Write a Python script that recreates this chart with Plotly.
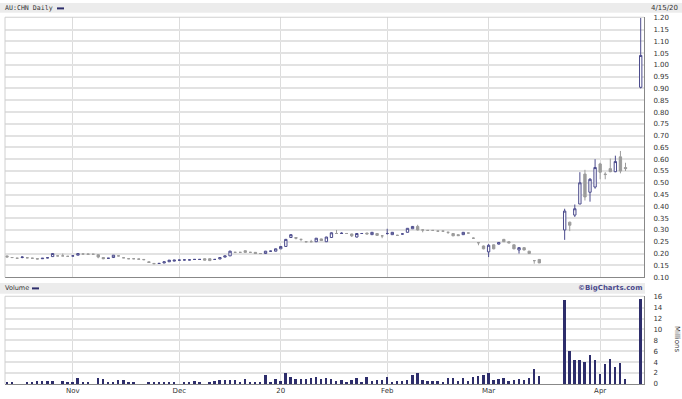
import pandas as pd
import plotly.graph_objects as go

# ---------------- data ----------------
holidays = ["2019-12-25", "2019-12-26", "2020-01-01", "2020-01-27", "2020-04-10", "2020-04-13"]
dates = pd.bdate_range("2019-10-15", "2020-04-15", freq="C", holidays=holidays).strftime("%Y-%m-%d").tolist()

N = None
opens = [.190, .183, .180, .183, .182, .180, .178, .178, .182, .187,
         .190, .190, .188, .190, .193, .198, .198, .197, .195, .183,
         .180, .183, .190, .182, .178, .178, .177, .175, .165, .158,
         .158, .160, .165, .168, .172, .173, .173, .175, .175, .178,
         .178, .175, .177, .185, .190, .205, .205, .212, .205, .205,
         .200, .200, .210, .210, .220, .230, .268, .268, .260, .250,
         .250, .250, .262, .250, .268, .285, .285, .285, .283, .270,
         .285, .287, .280, .285, .275, .285, .280, .277, .283, .290,
         .305, .315, .300, .298, .298, .295, .295, .290, .285, .280,
         .280, .287, .265, .246, .232, .207, .237, .240, .260, .250,
         .237, .215, .225, .210, .170, .175, N, N, N, N,
         .300, .333, .363, .410, .537, .460, .482, .580, .537, .560,
         .547, .610, .565, N, N, .905]
highs = [.190, .185, .182, .188, .183, .182, .180, .180, .183, .200,
         .192, .200, .190, .192, .200, .200, .199, .198, .196, .184,
         .181, .193, .191, .184, .180, .179, .178, .176, .166, .160,
         .160, .166, .172, .173, .174, .174, .175, .176, .176, .179,
         .179, .176, .183, .190, .212, .207, .206, .213, .207, .206,
         .202, .211, .212, .221, .231, .262, .282, .270, .262, .252,
         .258, .266, .263, .271, .290, .300, .290, .287, .284, .286,
         .287, .288, .291, .286, .277, .305, .291, .280, .285, .308,
         .316, .322, .302, .300, .299, .297, .297, .292, .287, .281,
         .291, .288, .268, .248, .234, .240, .238, .248, .262, .252,
         .238, .226, .227, .211, .172, .176, N, N, N, N,
         .390, .335, .408, .545, .555, .520, .600, .585, .545, .603,
         .615, .635, .585, N, N, 1.200]
lows = [.185, .182, .180, .180, .180, .178, .176, .177, .180, .186,
        .188, .190, .186, .188, .193, .196, .196, .195, .180, .176,
        .178, .182, .188, .181, .177, .176, .175, .172, .160, .155,
        .156, .159, .164, .167, .170, .171, .172, .173, .173, .171,
        .169, .173, .176, .184, .190, .203, .203, .204, .203, .199,
        .198, .199, .209, .209, .219, .229, .266, .260, .252, .248,
        .249, .249, .254, .249, .267, .283, .283, .283, .270, .268,
        .283, .282, .279, .276, .265, .280, .279, .275, .281, .289,
        .304, .298, .290, .296, .296, .293, .293, .283, .274, .275,
        .279, .285, .262, .235, .218, .185, .218, .238, .249, .244,
        .218, .200, .214, .199, .157, .160, N, N, N, N,
        .258, .295, .355, .410, .425, .420, .475, .515, .515, .545,
        .545, .540, .550, N, N, .900]
closes = [.185, .183, .180, .185, .182, .180, .177, .180, .182, .200,
          .190, .190, .188, .190, .200, .198, .197, .197, .185, .178,
          .180, .193, .190, .182, .178, .178, .176, .174, .162, .157,
          .158, .165, .172, .172, .172, .173, .173, .175, .175, .172,
          .170, .175, .183, .190, .210, .205, .205, .205, .205, .200,
          .200, .210, .210, .220, .230, .260, .280, .265, .260, .250,
          .250, .265, .255, .270, .288, .285, .286, .285, .275, .285,
          .285, .283, .290, .277, .275, .285, .290, .277, .283, .307,
          .315, .300, .300, .298, .298, .295, .295, .290, .275, .276,
          .290, .287, .265, .246, .220, .235, .220, .247, .250, .245,
          .220, .225, .215, .200, .170, .160, N, N, N, N,
          .380, .320, .390, .500, .440, .515, .565, .545, .535, .547,
          .590, .550, .560, N, N, 1.040]
volumes = [0.3, 0.3, 0, 0, 0.3, 0.3, 0.5, 0.4, 0.4, 0.4,
           0, 0.4, 0.2, 0.3, 1.0, 0.3, 0.3, 0, 1.0, 0.9,
           0.3, 0.3, 0.7, 0.7, 0.2, 0.2, 0, 0, 0.2, 0.2,
           0.2, 0.2, 0.2, 0.3, 0, 0.2, 0.2, 0.5, 0.3, 0,
           0.2, 0.4, 0.7, 0.6, 0.7, 0.6, 0.25, 0.8, 0.3, 0.2,
           0.35, 1.6, 0.3, 0.8, 0.4, 2.0, 1.3, 0.9, 0.85, 0.9,
           1.0, 1.15, 0.8, 1.0, 0.8, 0.4, 0.7, 0.35, 0.7, 1.0,
           0.35, 1.25, 0.55, 0.65, 0.7, 1.2, 0.35, 0.4, 0.4, 0.7,
           1.5, 1.9, 0.65, 0.4, 0.4, 0.4, 0.3, 1.0, 1.0, 0.4,
           1.0, 0.4, 1.2, 1.4, 1.5, 2.0, 0.7, 0.9, 1.1, 0.4,
           0.6, 0.8, 0.6, 1.1, 2.7, 1.4, N, N, N, N,
           15.3, 6.0, 4.4, 4.4, 4.0, 5.3, 4.3, 1.8, 3.6, 4.6,
           3.1, 3.8, 0.9, N, N, 15.5]

month_ticks = ["2019-11-01", "2019-12-02", "2020-01-02", "2020-02-03", "2020-03-02", "2020-04-01"]
month_labels = ["Nov", "Dec", "20", "Feb", "Mar", "Apr"]
price_ticks = [round(0.10 + 0.05 * k, 2) for k in range(23)]
volume_ticks = [0, 2, 4, 6, 8, 10, 12, 14, 16]

# ---------------- layout helpers ----------------
W, H = 682, 399
def px(x):
    return x / W
def py(y):
    return 1 - y / H

NAVY = "#4a4a8c"
BAR = "#2d2d6b"
GRAY = "#9c9c9c"
GRID = "#e2e2e2"
FONT = "DejaVu Sans"

fig = go.Figure()
fig.add_trace(go.Candlestick(
    x=dates, open=opens, high=highs, low=lows, close=closes,
    increasing=dict(line=dict(color=NAVY, width=1), fillcolor="white"),
    decreasing=dict(line=dict(color=GRAY, width=1), fillcolor=GRAY),
    whiskerwidth=0, showlegend=False, hoverinfo="skip",
    xaxis="x", yaxis="y"))
fig.add_trace(go.Bar(
    x=dates, y=volumes, marker=dict(color=BAR, line=dict(width=0)),
    width=0.38, showlegend=False, hoverinfo="skip", xaxis="x2", yaxis="y2"))

xr = [-0.39, 125.65]
xdom = [px(5), px(644)]
common_x = dict(type="category", categoryorder="array", categoryarray=dates,
                range=xr, domain=xdom, tickmode="array", tickvals=month_ticks,
                showgrid=True, gridcolor="#dcdcdc", gridwidth=1, zeroline=False,
                showline=True, linecolor="#888888", linewidth=1, ticks="",
                fixedrange=True)

fig.update_layout(
    width=W, height=H, margin=dict(l=0, r=0, t=0, b=0),
    paper_bgcolor="white", plot_bgcolor="white",
    boxgap=0.34,
    font=dict(family=FONT, size=7, color="#333333"),
    xaxis=dict(**common_x, showticklabels=False, anchor="y",
               rangeslider=dict(visible=False)),
    xaxis2=dict(**common_x, ticktext=month_labels, showticklabels=True, anchor="y2",
                tickfont=dict(size=7, color="#333333")),
    yaxis=dict(domain=[py(279.3), py(14.5)], range=[0.0988, 1.2021], side="right",
               tickmode="array", tickvals=price_ticks, tickformat=".2f",
               showgrid=True, gridcolor=GRID, gridwidth=2, zeroline=False,
               showline=True, linecolor="#888888", linewidth=1, ticks="",
               ticklabelstandoff=7, anchor="x", fixedrange=True,
               tickfont=dict(size=7, color="#333333")),
    yaxis2=dict(domain=[py(387.7), py(298.5)], range=[0, 16.1], side="right",
                tickmode="array", tickvals=volume_ticks,
                showgrid=True, gridcolor=GRID, gridwidth=2, zeroline=False,
                showline=True, linecolor="#888888", linewidth=1, ticks="",
                ticklabelstandoff=7, anchor="x2", fixedrange=True,
                tickfont=dict(size=7, color="#333333")),
    bargap=0,
)

shapes = [
    # title bands
    dict(type="rect", xref="paper", yref="paper", x0=0, x1=1, y0=py(10), y1=1,
         fillcolor="#ececec", line=dict(width=0), layer="below"),
    dict(type="rect", xref="paper", yref="paper", x0=0, x1=px(645), y0=py(296), y1=py(285),
         fillcolor="#ececec", line=dict(width=0), layer="below"),
    # light left / top borders
    dict(type="line", xref="paper", yref="paper", x0=px(5), x1=px(5), y0=py(279.3), y1=py(14.5),
         line=dict(color="#d0d0d0", width=1)),
    dict(type="line", xref="paper", yref="paper", x0=px(5), x1=px(644), y0=py(14.5), y1=py(14.5),
         line=dict(color="#d0d0d0", width=1)),
    dict(type="line", xref="paper", yref="paper", x0=px(5), x1=px(5), y0=py(387.7), y1=py(298.5),
         line=dict(color="#d0d0d0", width=1)),
    dict(type="line", xref="paper", yref="paper", x0=px(5), x1=px(644), y0=py(298.5), y1=py(298.5),
         line=dict(color="#d0d0d0", width=1)),
    # legend swatches
    dict(type="line", xref="paper", yref="paper", x0=px(57), x1=px(64), y0=py(5.5), y1=py(5.5),
         line=dict(color=BAR, width=2)),
    dict(type="line", xref="paper", yref="paper", x0=px(32), x1=px(39), y0=py(290.5), y1=py(290.5),
         line=dict(color=BAR, width=2)),
]
fig.update_layout(shapes=shapes)

ann = [
    dict(text="AU:CHN Daily", x=px(3), y=py(5.5), xanchor="left", yanchor="middle",
         font=dict(family="DejaVu Sans Mono", size=6.6, color="#333333")),
    dict(text="4/15/20", x=px(680), y=py(5.5), xanchor="right", yanchor="middle",
         font=dict(size=7, color="#333333")),
    dict(text="Volume", x=px(3), y=py(290.5), xanchor="left", yanchor="middle",
         font=dict(size=6.5, color="#333333")),
    dict(text="<b>©BigCharts.com</b>", x=px(644), y=py(290.5), xanchor="right", yanchor="middle",
         font=dict(size=7, color="#4a4a8c")),
    dict(text="Millions", x=px(677), y=py(342), xanchor="center", yanchor="middle",
         textangle=90, font=dict(size=7, color="#333333")),
]
for a in ann:
    a.update(xref="paper", yref="paper", showarrow=False)
fig.update_layout(annotations=ann)

fig.write_html("out.html")
